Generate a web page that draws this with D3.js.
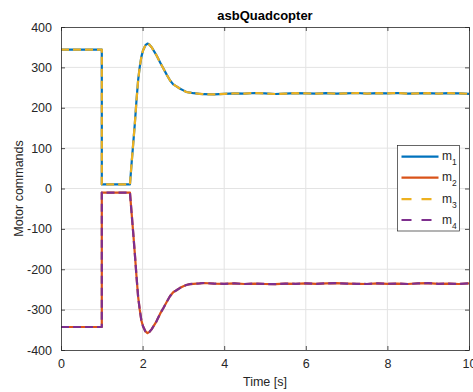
<!DOCTYPE html>
<html>
<head>
<meta charset="utf-8">
<script src="https://cdn.jsdelivr.net/npm/d3@7/dist/d3.min.js"></script>
<style>
  html, body { margin: 0; padding: 0; background: #fff; }
  svg { display: block; font-family: "Liberation Sans", Arial, Helvetica, sans-serif; }
</style>
</head>
<body>
<svg id="chart" width="473" height="392"></svg>
<script>
// Simulation time [s]
const time = [0, 1, 1, 1.69, 1.73, 1.77, 1.81, 1.85, 1.89, 1.93, 1.97, 2.01, 2.07, 2.12, 2.17,
  2.22, 2.34, 2.43, 2.51, 2.59, 2.67, 2.75, 2.83, 2.92, 3.0, 3.07, 3.16, 3.25, 3.4,
  3.5, 3.75, 4, 4.25, 4.5, 4.75, 5, 5.25, 5.5, 5.75, 6, 6.25, 6.5, 6.75, 7, 7.25, 7.5,
  7.75, 8, 8.25, 8.5, 8.75, 9, 9.25, 9.5, 9.75, 10];

// Motor commands
const m1 = [344, 344, 10, 10, 62, 111, 161, 218, 268, 301, 326, 342, 355, 359, 356,
  350, 330, 312, 297, 282, 268, 258, 253, 247, 243, 239, 237.5, 236, 234.5,
  233.5, 233, 234.5, 235.5, 235, 236.5, 235.5, 234, 235, 236, 235.5, 235, 236, 235, 235.5, 236.5, 235,
  236, 235.5, 236.5, 235, 235.5, 236, 235, 236, 235.5, 234.5];
const m2 = [-343, -343, -10, -10, -60, -110, -162, -217, -268, -300, -327, -341, -354, -358, -355,
  -349, -329, -310, -296, -281, -267, -257, -252, -246, -242, -239, -237, -236, -235,
  -234, -235.5, -236, -235, -236.5, -235.5, -236.5, -237, -235.5, -236, -235, -236, -235, -234.5, -235.5, -236, -236.5,
  -235, -236, -235.5, -236.5, -235, -234.5, -236, -235.5, -236.5, -235];
const m3 = [344, 344, 10, 10, 62, 111, 161, 218, 268, 301, 326, 342, 355, 359, 356,
  350, 330, 312, 297, 282, 268, 258, 253, 247, 243, 239, 237.5, 236, 234.5,
  233.5, 233, 234.5, 235.5, 235, 236.5, 235.5, 234, 235, 236, 235.5, 235, 236, 235, 235.5, 236.5, 235,
  236, 235.5, 236.5, 235, 235.5, 236, 235, 236, 235.5, 234.5];
const m4 = [-343, -343, -10, -10, -60, -110, -162, -217, -268, -300, -327, -341, -354, -358, -355,
  -349, -329, -310, -296, -281, -267, -257, -252, -246, -242, -239, -237, -236, -235,
  -234, -235.5, -236, -235, -236.5, -235.5, -236.5, -237, -235.5, -236, -235, -236, -235, -234.5, -235.5, -236, -236.5,
  -235, -236, -235.5, -236.5, -235, -234.5, -236, -235.5, -236.5, -235];

const xTicks = [0, 2, 4, 6, 8, 10];
const yTicks = [-400, -300, -200, -100, 0, 100, 200, 300, 400];
const seriesNames = ["1", "2", "3", "4"];

const series = [
  { name: seriesNames[0], values: m1, color: "#0072BD", dash: null },
  { name: seriesNames[1], values: m2, color: "#D95319", dash: null },
  { name: seriesNames[2], values: m3, color: "#EDB120", dash: "8,4" },
  { name: seriesNames[3], values: m4, color: "#7E2F8E", dash: "8,4" }
];

const svg = d3.select("#chart");
const pLeft = 61, pRight = 469, pTop = 27, pBottom = 350;
const axisColor = "#262626";

const x = d3.scaleLinear().domain([0, 10]).range([pLeft, pRight]);
const y = d3.scaleLinear().domain([-400, 400]).range([pBottom, pTop]);

// grid
const grid = svg.append("g");
grid.selectAll("line.gx").data(xTicks.slice(1, -1)).enter().append("line")
  .attr("x1", d => x(d)).attr("x2", d => x(d))
  .attr("y1", pTop).attr("y2", pBottom)
  .attr("stroke", "#e3e3e3").attr("stroke-width", 1);
grid.selectAll("line.gy").data(yTicks.slice(1, -1)).enter().append("line")
  .attr("x1", pLeft).attr("x2", pRight)
  .attr("y1", d => y(d)).attr("y2", d => y(d))
  .attr("stroke", "#e3e3e3").attr("stroke-width", 1);

// data lines
const line = d3.line()
  .x((d, i) => x(time[i]))
  .y(d => y(d));

const plot = svg.append("g");
series.forEach(s => {
  plot.append("path")
    .datum(s.values)
    .attr("d", line)
    .attr("fill", "none")
    .attr("stroke", s.color)
    .attr("stroke-width", 2.2)
    .attr("stroke-linejoin", "round")
    .attr("stroke-dasharray", s.dash);
});

// axes with inward ticks on all four sides; plain hyphen for negatives
const tl = 4;
const fmt = d => String(d);
const xAxisB = d3.axisBottom(x).tickValues(xTicks).tickSizeInner(-tl).tickSizeOuter(0).tickPadding(9).tickFormat(fmt);
const xAxisT = d3.axisTop(x).tickValues(xTicks).tickSizeInner(-tl).tickSizeOuter(0).tickFormat("");
const yAxisL = d3.axisLeft(y).tickValues(yTicks).tickSizeInner(-tl).tickSizeOuter(0).tickPadding(9).tickFormat(fmt);
const yAxisR = d3.axisRight(y).tickValues(yTicks).tickSizeInner(-tl).tickSizeOuter(0).tickFormat("");

function styleAxis(g) {
  g.selectAll("path.domain").attr("stroke", axisColor).attr("stroke-width", 0.8);
  g.selectAll(".tick line").attr("stroke", axisColor).attr("stroke-width", 0.8);
  g.selectAll(".tick text").attr("fill", axisColor).attr("font-size", 12.5)
    .attr("font-family", "'Liberation Sans', Arial, sans-serif");
}

svg.append("g").attr("transform", `translate(0,${pBottom})`).call(xAxisB).call(styleAxis);
svg.append("g").attr("transform", `translate(0,${pTop})`).call(xAxisT).call(styleAxis);
svg.append("g").attr("transform", `translate(${pLeft},0)`).call(yAxisL).call(styleAxis);
svg.append("g").attr("transform", `translate(${pRight},0)`).call(yAxisR).call(styleAxis);

// title and labels
svg.append("text")
  .attr("x", (pLeft + pRight) / 2).attr("y", 19.5)
  .attr("text-anchor", "middle")
  .attr("font-weight", "bold").attr("font-size", 13)
  .attr("fill", "#000")
  .text("asbQuadcopter");

svg.append("text")
  .attr("x", (pLeft + pRight) / 2).attr("y", 386)
  .attr("text-anchor", "middle")
  .attr("font-size", 12.5).attr("fill", axisColor)
  .text("Time [s]");

svg.append("text")
  .attr("transform", `translate(23,${(pTop + pBottom) / 2}) rotate(-90)`)
  .attr("text-anchor", "middle")
  .attr("font-size", 12.5).attr("fill", axisColor)
  .text("Motor commands");

// legend
const lg = svg.append("g");
lg.append("rect")
  .attr("x", 397.5).attr("y", 145.5).attr("width", 62).attr("height", 85.5)
  .attr("fill", "#fff").attr("stroke", axisColor).attr("stroke-width", 0.7);
const rowY = [156.7, 177.7, 199.2, 220];
series.forEach((s, i) => {
  lg.append("line")
    .attr("x1", 401.5).attr("x2", 438.5)
    .attr("y1", rowY[i]).attr("y2", rowY[i])
    .attr("stroke", s.color).attr("stroke-width", 2.2)
    .attr("stroke-dasharray", s.dash ? "10,10" : null);
  const t = lg.append("text")
    .attr("x", 442).attr("y", rowY[i] + 3.5)
    .attr("font-size", 12).attr("fill", axisColor);
  t.append("tspan").text("m");
  t.append("tspan").attr("dy", 5).attr("font-size", 8.5).text(s.name);
});
</script>
</body>
</html>
